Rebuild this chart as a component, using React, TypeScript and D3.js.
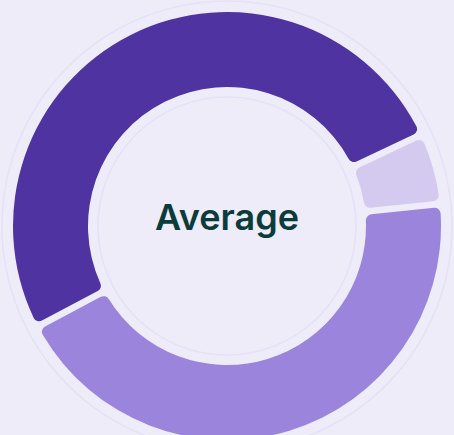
import React from 'react';
import * as d3 from 'd3';

// slices, in drawing order (clockwise from the start angle)
const categories = ['High', 'Low', 'Average'];
const values = [51, 5, 44];
const colors = ['#4f33a0', '#d4caf0', '#9b85dc'];
const centerLabel = 'Average';

const width = 454;
const height = 435;
const cx = 227;
const cy = 226;
const outerRadius = 214;
const innerRadius = 139;
const startDeg = 242;

type Slice = { label: string; value: number; color: string };

const App: React.FC = () => {
    const data: Slice[] = categories.map((c, i) => ({ label: c, value: values[i], color: colors[i] }));

    const pie = d3.pie<Slice>()
        .value(d => d.value)
        .sort(null)
        .startAngle((startDeg * Math.PI) / 180)
        .endAngle((startDeg * Math.PI) / 180 + 2 * Math.PI)
        .padAngle(0.026);

    const arc = d3.arc<d3.PieArcDatum<Slice>>()
        .innerRadius(innerRadius)
        .outerRadius(outerRadius)
        .cornerRadius(6);

    return (
        <svg width={width} height={height} style={{ position: 'absolute', left: 0, top: 0 }}>
            <rect width={width} height={height} fill="#efecf9" />
            <g transform={`translate(${cx},${cy})`}>
                {/* faint guide rings */}
                <circle r={225} fill="none" stroke="#e5e1f6" strokeWidth={1.5} />
                <circle r={129} fill="none" stroke="#e5e1f6" strokeWidth={1.5} />
                {pie(data).map(d => (
                    <path key={d.data.label} d={arc(d) || ''} fill={d.data.color} />
                ))}
                <text
                    y={4}
                    textAnchor="middle"
                    fontFamily="Inter, sans-serif"
                    fontWeight={600}
                    fontSize={36}
                    fill="#0b3b3a"
                >
                    {centerLabel}
                </text>
            </g>
        </svg>
    );
};

export default App;
